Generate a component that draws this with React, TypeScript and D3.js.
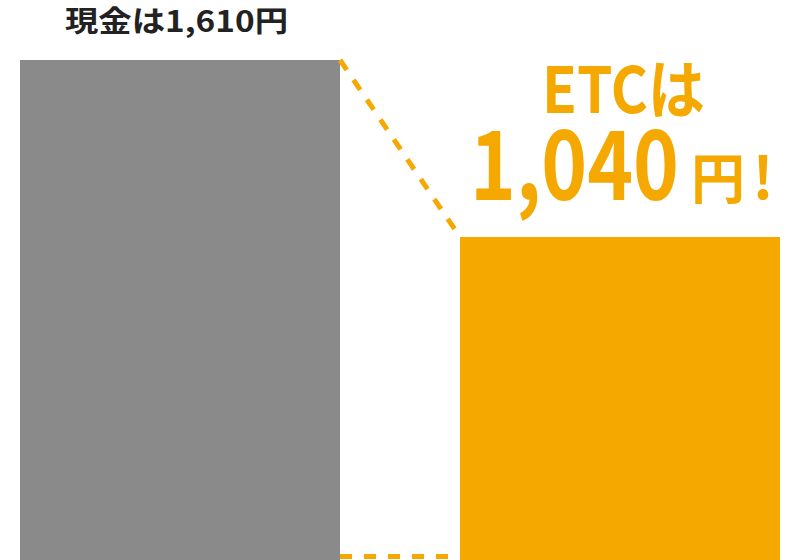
import React, { useEffect, useRef } from 'react';
import * as d3 from 'd3';

const categories = ["現金", "ETC"];
const fares = [1610, 1040];
const barColors = ["#8a8a8a", "#f5a800"];

export default function App() {
  const svgRef = useRef<SVGSVGElement>(null);

  useEffect(() => {
    if (!svgRef.current) return;
    const width = 800;
    const height = 560;

    const svg = d3.select(svgRef.current)
      .attr("viewBox", `0 0 ${width} ${height}`);
    svg.selectAll("*").remove();

    const x = d3.scaleBand<string>()
      .domain(categories)
      .range([20, 780])
      .paddingInner(120 / 440)
      .paddingOuter(0);

    const y = d3.scaleLinear()
      .domain([0, 1610])
      .range([560, 60]);

    // bars
    svg.selectAll(".bar")
      .data(categories)
      .enter()
      .append("rect")
      .attr("class", "bar")
      .attr("x", d => x(d)!)
      .attr("y", (d, i) => y(fares[i]))
      .attr("width", x.bandwidth())
      .attr("height", (d, i) => y(0) - y(fares[i]))
      .attr("fill", (d, i) => barColors[i]);

    const cashRight = x(categories[0])! + x.bandwidth();
    const etcLeft = x(categories[1])!;

    // dashed connectors
    svg.append("line")
      .attr("x1", cashRight)
      .attr("y1", y(fares[0]))
      .attr("x2", etcLeft)
      .attr("y2", y(fares[1]))
      .attr("stroke", barColors[1])
      .attr("stroke-width", 5)
      .attr("stroke-dasharray", "12 12");

    svg.append("line")
      .attr("x1", cashRight)
      .attr("y1", y(0) - 3.5)
      .attr("x2", etcLeft)
      .attr("y2", y(0) - 3.5)
      .attr("stroke", barColors[1])
      .attr("stroke-width", 5)
      .attr("stroke-dasharray", "12 12");

    const font = "'Noto Sans CJK JP', 'Noto Sans', sans-serif";
    const fmt = d3.format(",");

    // cash label
    svg.append("text")
      .attr("x", 65)
      .attr("y", 32)
      .attr("font-family", font)
      .attr("font-weight", "bold")
      .attr("font-size", 29)
      .attr("fill", "#222")
      .attr("textLength", 223)
      .attr("lengthAdjust", "spacingAndGlyphs")
      .text(`${categories[0]}は${fmt(fares[0])}円`);

    // ETC label
    svg.append("text")
      .attr("x", 542)
      .attr("y", 113)
      .attr("font-family", font)
      .attr("font-weight", "bold")
      .attr("font-size", 64)
      .attr("fill", barColors[1])
      .attr("textLength", 163)
      .attr("lengthAdjust", "spacingAndGlyphs")
      .text(`${categories[1]}は`);

    svg.append("text")
      .attr("x", 470)
      .attr("y", 200)
      .attr("font-family", font)
      .attr("font-weight", "bold")
      .attr("font-size", 96)
      .attr("fill", barColors[1])
      .attr("textLength", 209)
      .attr("lengthAdjust", "spacingAndGlyphs")
      .text(fmt(fares[1]));

    svg.append("text")
      .attr("x", 691)
      .attr("y", 199)
      .attr("font-family", font)
      .attr("font-weight", "bold")
      .attr("font-size", 54)
      .attr("fill", barColors[1])
      .text("円");

    svg.append("text")
      .attr("x", 763)
      .attr("y", 199)
      .attr("text-anchor", "middle")
      .attr("font-family", font)
      .attr("font-weight", "bold")
      .attr("font-size", 58)
      .attr("fill", barColors[1])
      .text("!");
  }, []);

  return (
    <svg
      ref={svgRef}
      width={800}
      height={560}
      style={{ position: "fixed", left: 0, top: 0, background: "#fff" }}
    />
  );
}
